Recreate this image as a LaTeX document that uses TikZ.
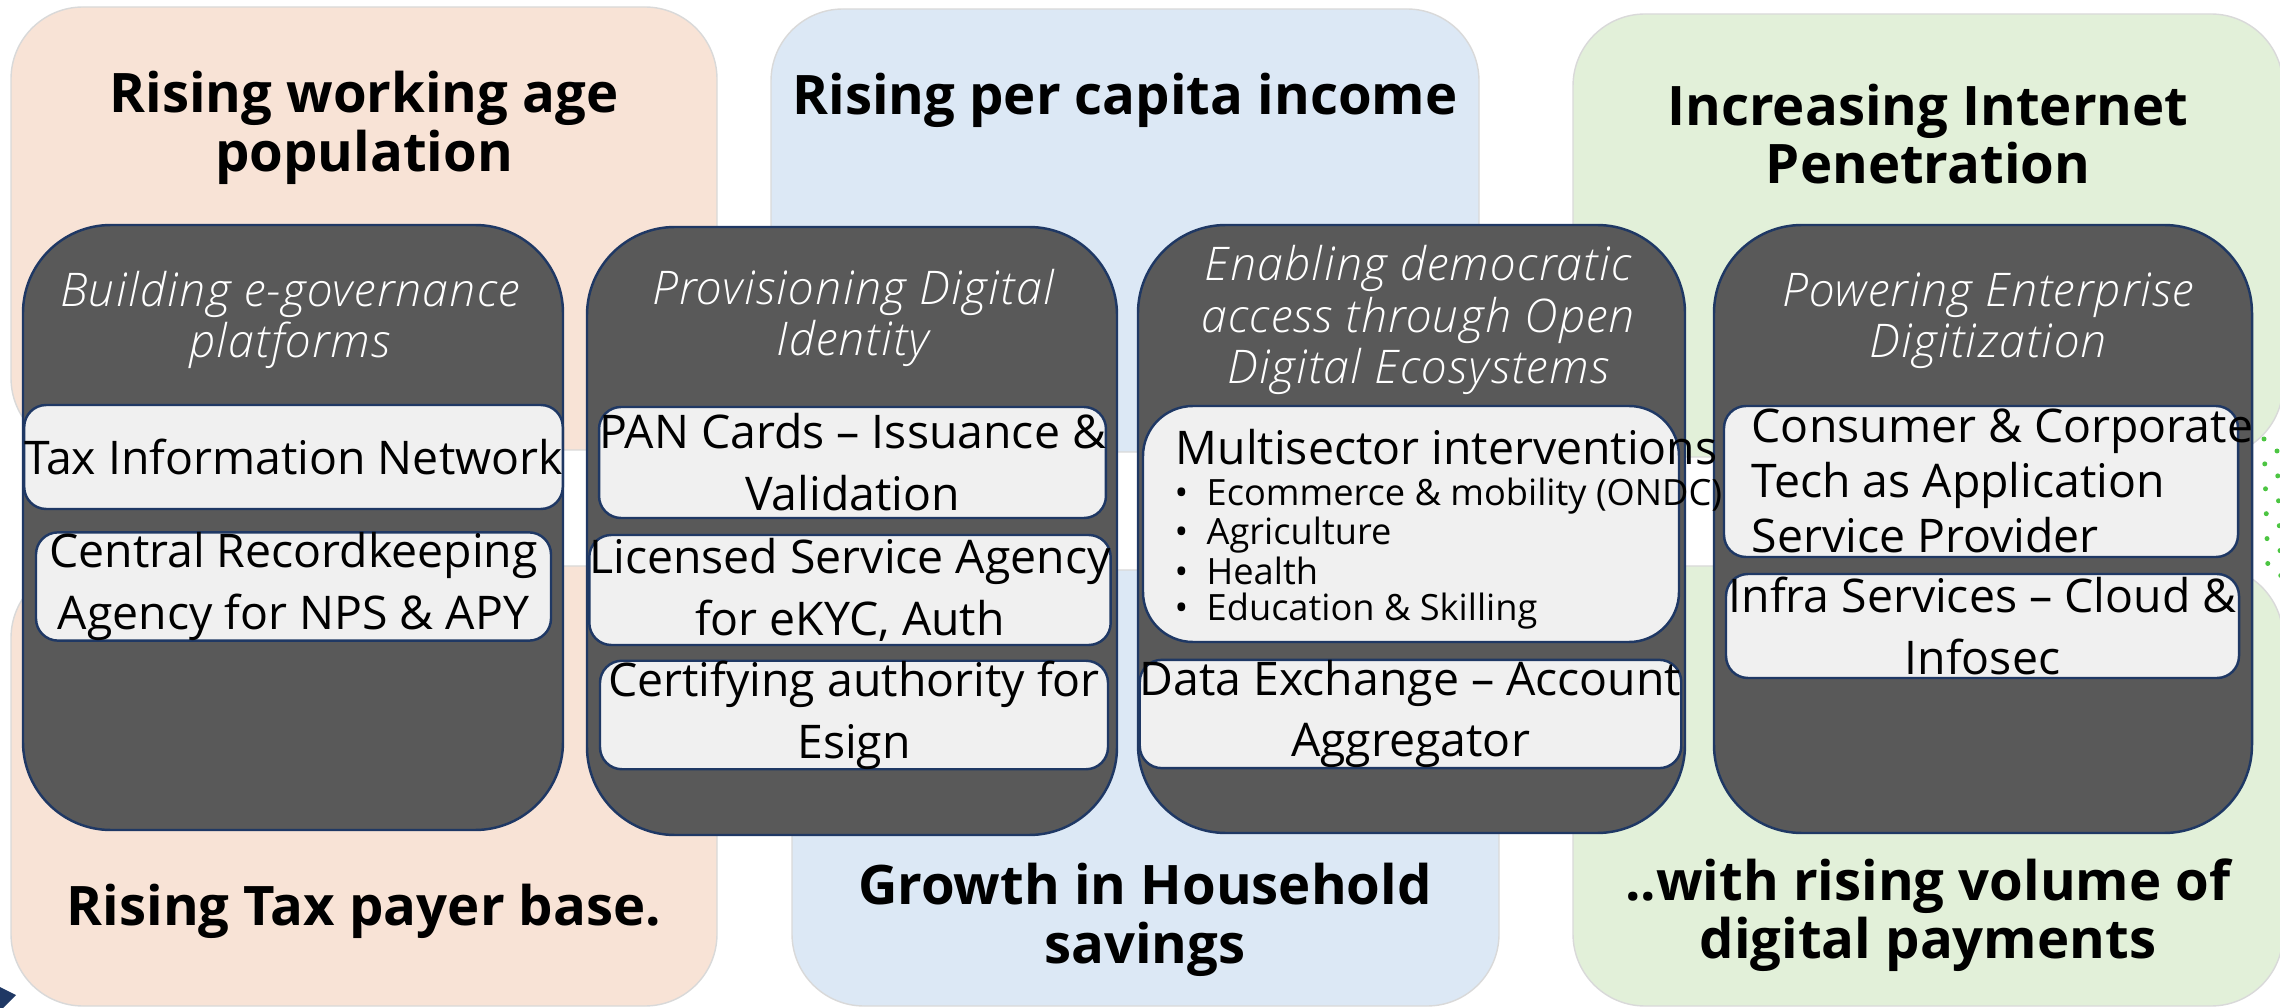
\documentclass[tikz,border=0pt]{standalone}
\usepackage{fontspec}
\setmainfont{Open Sans}
\newfontfamily\lightfont[ItalicFont={Open Sans Light Italic},LetterSpace=3]{Open Sans Light}
\definecolor{peachfill}{HTML}{F8E3D6}
\definecolor{bluefill}{HTML}{DCE8F5}
\definecolor{greenfill}{HTML}{E2F0D9}
\definecolor{panelgray}{HTML}{595959}
\definecolor{panelline}{HTML}{1F3864}
\definecolor{boxgray}{HTML}{F0F0F0}
\definecolor{dotgreen}{HTML}{4CC542}
\tikzset{
  trend/.style={rounded corners=0.72cm, inner sep=0pt, draw=black!15, line width=0.4pt},
  pillar/.style={rounded corners=0.88cm, inner sep=0pt, fill=panelgray, draw=panelline, line width=0.7pt},
  itembox/.style={rounded corners=0.22cm, inner sep=0pt, fill=boxgray, draw=panelline, line width=0.7pt,
    align=center, font=\fontsize{13.2}{17.6}\selectfont},
  trendtext/.style={align=center, font=\fontsize{15.5}{16.6}\selectfont\bfseries},
  pillartext/.style={align=center, text=white, font=\fontsize{13.2}{14.6}\selectfont\lightfont\itshape},
  dot/.style={circle, fill=dotgreen, inner sep=0pt, minimum size=0.05cm}
}
\begin{document}
\begin{tikzpicture}[y=-1cm]
    \useasboundingbox (0,0) rectangle (22.8,10.08);
    \clip (0,0) rectangle (22.8,10.08);

    % Dots at the right edge
    \foreach \n in {0,...,5} {
        \node[dot] (dota\n) at (22.64+0.0075*\n,4.39+0.249*\n) {};
        \node[dot] (dotb\n) at (22.77+0.0075*\n,4.51+0.249*\n) {};
    }

    % Trend panels, top row
    \node[trend, fill=peachfill, minimum width=7.06cm, minimum height=4.43cm] (peachtop) at (3.64,2.285) {};
    \node[trend, fill=bluefill, minimum width=7.08cm, minimum height=4.43cm] (bluetop) at (11.25,2.305) {};
    \node[trend, fill=greenfill, minimum width=7.10cm, minimum height=4.43cm] (greentop) at (19.28,2.355) {};

    % Trend panels, bottom row
    \node[trend, fill=peachfill, minimum width=7.06cm, minimum height=4.40cm] (peachbot) at (3.64,7.86) {};
    \node[trend, fill=bluefill, minimum width=7.07cm, minimum height=4.36cm] (bluebot) at (11.455,7.88) {};
    \node[trend, fill=greenfill, minimum width=7.10cm, minimum height=4.40cm] (greenbot) at (19.28,7.86) {};

    % Trend titles
    \node[trendtext] (peachtitle) at (3.64,1.28) {Rising working age\\population};
    \node[trendtext] (bluetitle) at (11.25,1.0) {Rising per capita income};
    \node[trendtext] (greentitle) at (19.28,1.34) {Increasing Internet\\Penetration};
    \node[trendtext] (peachfoot) at (3.64,9.11) {Rising Tax payer base.};
    \node[trendtext] (bluefoot) at (11.45,9.2) {Growth in Household\\savings};
    \node[trendtext] (greenfoot) at (19.28,9.15) {..with rising volume of\\digital payments};

    % Dark pillars
    \node[pillar, minimum width=5.40cm, minimum height=6.05cm] (pillarone) at (2.93,5.275) {};
    \node[pillar, minimum width=5.30cm, minimum height=6.08cm] (pillartwo) at (8.52,5.31) {};
    \node[pillar, minimum width=5.47cm, minimum height=6.08cm] (pillarthree) at (14.115,5.29) {};
    \node[pillar, minimum width=5.38cm, minimum height=6.08cm] (pillarfour) at (19.83,5.29) {};

    % Pillar titles
    \node[pillartext] (titleone) at (2.90,3.20) {Building e-governance\\platforms};
    \node[pillartext] (titletwo) at (8.53,3.18) {Provisioning Digital\\Identity};
    \node[pillartext] (titlethree) at (14.18,3.20) {Enabling democratic\\access through Open\\Digital Ecosystems};
    \node[pillartext] (titlefour) at (19.88,3.21) {Powering Enterprise\\Digitization};

    % Items, first pillar
    \node[itembox, minimum width=5.15cm, minimum height=1.04cm] (tin) at (2.935,4.57) {Tax Information Network};
    \node[itembox, minimum width=5.15cm, minimum height=1.03cm] (cra) at (2.935,5.865) {Central Recordkeeping\\Agency for NPS \& APY};

    % Items, second pillar
    \node[itembox, minimum width=5.05cm, minimum height=1.11cm] (pan) at (8.525,4.625) {PAN Cards -- Issuance \&\\Validation};
    \node[itembox, minimum width=5.04cm, minimum height=1.10cm] (lsa) at (8.50,5.90) {Licensed Service Agency\\for eKYC, Auth};
    \node[itembox, minimum width=5.08cm, minimum height=1.04cm] (esign) at (8.54,7.15) {Certifying authority for\\Esign};

    % Items, third pillar
    \node[itembox, rounded corners=0.5cm, minimum width=5.36cm, minimum height=2.36cm] (multi) at (14.11,5.24) {};
    \node[anchor=base west, inner sep=0pt, font=\fontsize{13.2}{17.6}\selectfont] (multihead) at (11.75,4.65) {Multisector interventions};
    \node[anchor=north west, inner sep=0pt, align=left, font=\fontsize{10.3}{10.1}\selectfont] (multilist) at (11.74,4.77) {%
        \makebox[0.32cm][l]{\textbullet}Ecommerce \& mobility (ONDC)\\
        \makebox[0.32cm][l]{\textbullet}Agriculture\\
        \makebox[0.32cm][l]{\textbullet}Health\\
        \makebox[0.32cm][l]{\textbullet}Education \& Skilling};
    \node[itembox, minimum width=5.23cm, minimum height=1.04cm] (aa) at (14.105,7.14) {Data Exchange -- Account\\Aggregator};

    % Items, fourth pillar
    \node[itembox, align=left, minimum width=5.14cm, minimum height=1.51cm] (asp) at (19.81,4.815) {};
    \node[anchor=west, inner sep=0pt, align=left, font=\fontsize{13.2}{15.6}\selectfont] (asptext) at (17.51,4.81) {Consumer \& Corporate\\Tech as Application\\Service Provider};
    \node[itembox, minimum width=5.13cm, minimum height=1.04cm] (infra) at (19.825,6.26) {Infra Services -- Cloud \&\\Infosec};

    % Logo fragment at the corner
    \fill[panelline] (0,9.87) -- (0.16,9.95) -- (0.03,10.08) -- (0,10.08) -- cycle;
\end{tikzpicture}
\end{document}
